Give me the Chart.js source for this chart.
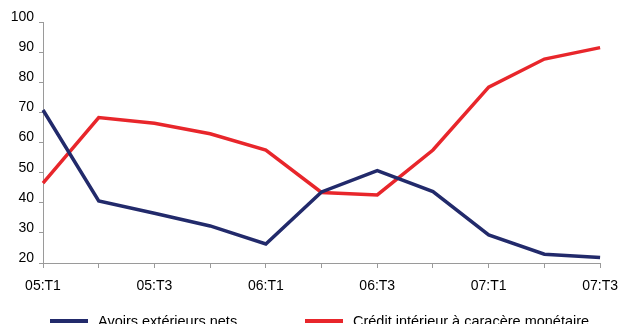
<!DOCTYPE html>
<html>
<head>
<meta charset="utf-8">
<script src="https://cdn.jsdelivr.net/npm/chart.js"></script>
<style>
  body { margin: 0; background: #fff; overflow: hidden; }
  #wrap { width: 628px; height: 324px; }
</style>
</head>
<body>
<div id="wrap"><canvas id="myChart" width="628" height="324"></canvas></div>
<script>
  // quarterly series
  let quarters = ["05:T1","05:T2","05:T3","05:T4","06:T1","06:T2","06:T3","06:T4","07:T1","07:T2","07:T3"];
  let avoirs = [70.8, 40.6, 36.5, 32.3, 26.3, 43.6, 50.7, 43.7, 29.3, 22.9, 21.8];
  let credit = [46.5, 68.3, 66.4, 62.9, 57.5, 43.4, 42.6, 57.5, 78.4, 87.7, 91.5];
  let yMin = 20, yMax = 100, yStep = 10;

  const family = '"Liberation Sans", Arial, sans-serif';
  const axisGrey = '#9a9a9a';

  // legend drawn as short thick lines under the axis
  const lineLegend = {
    id: 'lineLegend',
    afterDraw(chart) {
      const ctx = chart.ctx;
      const xs = [50, 305];
      chart.data.datasets.forEach((ds, i) => {
        ctx.save();
        ctx.fillStyle = ds.borderColor;
        ctx.fillRect(xs[i], 319, 38, 4);
        ctx.fillStyle = '#000';
        ctx.font = '14.5px ' + family;
        ctx.textBaseline = 'middle';
        ctx.fillText(ds.label, xs[i] + 48, 322);
        ctx.restore();
      });
    }
  };

  const ctx = document.getElementById('myChart');
  new Chart(ctx, {
    type: 'line',
    data: {
      labels: quarters,
      datasets: [{
        label: 'Avoirs extérieurs nets',
        data: avoirs,
        borderColor: '#222a6b',
        borderWidth: 3.5,
        pointRadius: 0,
        tension: 0
      }, {
        label: 'Crédit intérieur à caracère monétaire',
        data: credit,
        borderColor: '#e8262b',
        borderWidth: 3.5,
        pointRadius: 0,
        tension: 0
      }]
    },
    options: {
      responsive: false,
      animation: false,
      devicePixelRatio: 1,
      layout: { padding: { left: 0, right: 20, top: 22, bottom: 0 } },
      plugins: { legend: { display: false }, tooltip: { enabled: false } },
      scales: {
        x: {
          offset: false,
          grid: { drawOnChartArea: false, tickLength: 5, color: axisGrey },
          border: { color: axisGrey, width: 1 },
          ticks: {
            autoSkip: false, maxRotation: 0, padding: 10, color: '#000',
            font: { family: family, size: 14 },
            callback: function (v, i) { return i % 2 === 0 ? this.getLabelForValue(v) : ''; }
          },
          afterFit: s => { s.height = 61; }
        },
        y: {
          min: yMin, max: yMax,
          grid: { drawOnChartArea: false, tickLength: 4, color: axisGrey },
          border: { color: axisGrey, width: 1 },
          ticks: {
            stepSize: yStep, padding: 5, color: '#000',
            font: { family: family, size: 14, lineHeight: 0.7 },
            // empty second line lifts the number so it sits just above its tick
            callback: v => [String(v), '']
          },
          afterFit: s => { s.width = 43; }
        }
      }
    },
    plugins: [lineLegend]
  });
</script>
</body>
</html>
